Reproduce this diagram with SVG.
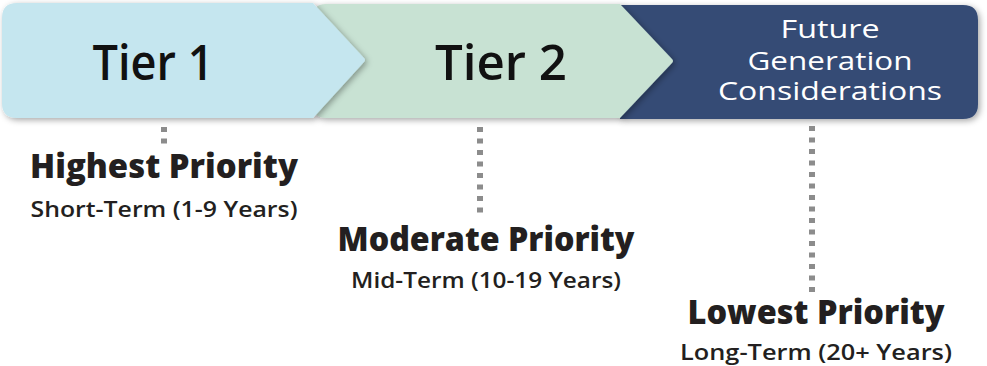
<svg xmlns="http://www.w3.org/2000/svg" width="987" height="366" viewBox="0 0 987 366">
<defs>
<filter id="sh" x="-5%" y="-10%" width="115%" height="130%">
<feDropShadow dx="2" dy="2" stdDeviation="3" flood-color="#000" flood-opacity="0.35"/>
</filter>
<style>
.tier{font-family:"Open Sans","Liberation Sans",sans-serif;font-weight:600;font-size:49px;fill:#111;text-anchor:middle}
.fut{font-family:"Open Sans","Liberation Sans",sans-serif;font-weight:500;font-size:25px;fill:#fff;text-anchor:middle}
.pri{font-family:"Open Sans","Liberation Sans",sans-serif;font-weight:800;font-size:34px;fill:#231f20;text-anchor:middle}
.term{font-family:"Open Sans","Liberation Sans",sans-serif;font-weight:600;font-size:21px;fill:#231f20;text-anchor:middle}
.dot{stroke:#8c8c8c;stroke-width:6;stroke-dasharray:5 6.5;fill:none}
</style>
</defs>
<rect width="987" height="366" fill="#fff"/>
<g id="tier3">
<path d="M 620 5 H 963 Q 978 5 978 20 V 104 Q 978 119 963 119 H 620 Z" fill="#344b75" filter="url(#sh)"/>
<text class="fut" x="830" y="38" textLength="99" lengthAdjust="spacingAndGlyphs">Future</text>
<text class="fut" x="830" y="70" textLength="165" lengthAdjust="spacingAndGlyphs">Generation</text>
<text class="fut" x="830" y="100" textLength="224" lengthAdjust="spacingAndGlyphs">Considerations</text>
</g>
<g id="tier2">
<path d="M 326 4 H 620 L 672 59 Q 674 61 672 63 L 620 118 H 326 Q 313 118 313 105 V 17 Q 313 4 326 4 Z" fill="#c8e2d3" filter="url(#sh)"/>
<text class="tier" x="501" y="80" textLength="132" lengthAdjust="spacingAndGlyphs">Tier 2</text>
</g>
<g id="tier1">
<path d="M 17 3 H 313 L 364 58 Q 366 60 364 62 L 313 118 H 17 Q 2 118 2 103 V 18 Q 2 3 17 3 Z" fill="#c5e6ef" filter="url(#sh)"/>
<text class="tier" x="153" y="80" textLength="121" lengthAdjust="spacingAndGlyphs">Tier 1</text>
</g>
<g id="connectors">
<line class="dot" x1="164" y1="127" x2="164" y2="144"/>
<line class="dot" x1="480" y1="127" x2="480" y2="215"/>
<line class="dot" x1="812" y1="126" x2="812" y2="296"/>
</g>
<g id="highest">
<text class="pri" x="164" y="178" textLength="268" lengthAdjust="spacingAndGlyphs">Highest Priority</text>
<text class="term" x="164" y="217" textLength="267" lengthAdjust="spacingAndGlyphs">Short-Term (1-9 Years)</text>
</g>
<g id="moderate">
<text class="pri" x="486" y="251" textLength="297" lengthAdjust="spacingAndGlyphs">Moderate Priority</text>
<text class="term" x="486" y="288" textLength="270" lengthAdjust="spacingAndGlyphs">Mid-Term (10-19 Years)</text>
</g>
<g id="lowest">
<text class="pri" x="816" y="324" textLength="257" lengthAdjust="spacingAndGlyphs">Lowest Priority</text>
<text class="term" x="816" y="360" textLength="272" lengthAdjust="spacingAndGlyphs">Long-Term (20+ Years)</text>
</g>
</svg>
